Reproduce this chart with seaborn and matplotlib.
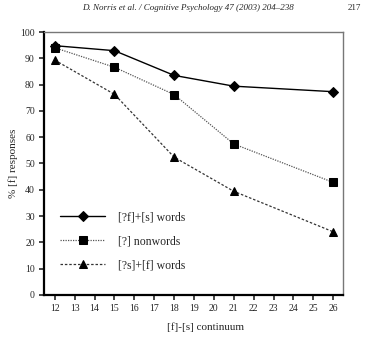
import matplotlib
matplotlib.use("Agg")
import matplotlib.pyplot as plt
import seaborn as sns
import pandas as pd

# Continuum steps and response percentages per condition
steps = [12, 15, 18, 21, 26]
f_s_words = [94.8, 92.9, 83.5, 79.4, 77.3]
nonwords = [94.0, 86.6, 76.2, 57.4, 42.8]
s_f_words = [89.3, 76.3, 52.4, 39.4, 24.0]
labels = ["[?f]+[s] words", "[?] nonwords", "[?s]+[f] words"]

x_ticks = list(range(12, 27))
y_ticks = list(range(0, 101, 10))

df = pd.DataFrame({
    "step": steps * 3,
    "pct": f_s_words + nonwords + s_f_words,
    "cond": [labels[0]] * 5 + [labels[1]] * 5 + [labels[2]] * 5,
})

sns.set_style("ticks")
plt.rcParams["font.family"] = ["Liberation Serif", "DejaVu Serif"]

fig = plt.figure(figsize=(3.75, 3.37), dpi=100)
ax = fig.add_axes([0.117, 0.125, 0.798, 0.780])

styles = {
    labels[0]: dict(color="black", marker="D", ls="-", lw=1.0, ms=5.5),
    labels[1]: dict(color="#555555", marker="s", ls=(0, (1, 1)), lw=0.9, ms=5.5),
    labels[2]: dict(color="#333333", marker="^", ls=(0, (2, 1.5)), lw=0.9, ms=6),
}

for lab in labels:
    st = styles[lab]
    sns.lineplot(data=df[df["cond"] == lab], x="step", y="pct", ax=ax,
                 color=st["color"], linestyle=st["ls"], linewidth=st["lw"],
                 marker=st["marker"], markersize=st["ms"],
                 markerfacecolor="black", markeredgecolor="black",
                 label=lab)

ax.set_xlim(11.45, 26.5)
ax.set_ylim(0, 100)
ax.set_xticks(x_ticks)
ax.set_yticks(y_ticks)
ax.tick_params(axis="both", labelsize=7, length=3.5, width=1.2, direction="out", pad=3)
for side in ["left", "bottom"]:
    ax.spines[side].set_linewidth(1.6)
    ax.spines[side].set_color("black")
for side in ["top", "right"]:
    ax.spines[side].set_visible(True)
    ax.spines[side].set_linewidth(1.0)
    ax.spines[side].set_color("#777777")

ax.set_xlabel("[f]-[s] continuum", fontsize=8)
ax.set_ylabel("% [f] responses", fontsize=8)
ax.xaxis.set_label_coords(0.54, -0.105)
ax.yaxis.set_label_coords(-0.085, 0.5)

leg = ax.legend(loc="lower left", bbox_to_anchor=(0.02, 0.05), frameon=False,
                fontsize=8.5, handlelength=3.8, handletextpad=1.1, labelspacing=1.0)

fig.text(0.50, 0.975, "D. Norris et al. / Cognitive Psychology 47 (2003) 204\u2013238",
         ha="center", va="center", fontsize=6.5, style="italic")
fig.text(0.945, 0.975, "217", ha="center", va="center", fontsize=6.5)

fig.savefig("out.png", dpi=100)
